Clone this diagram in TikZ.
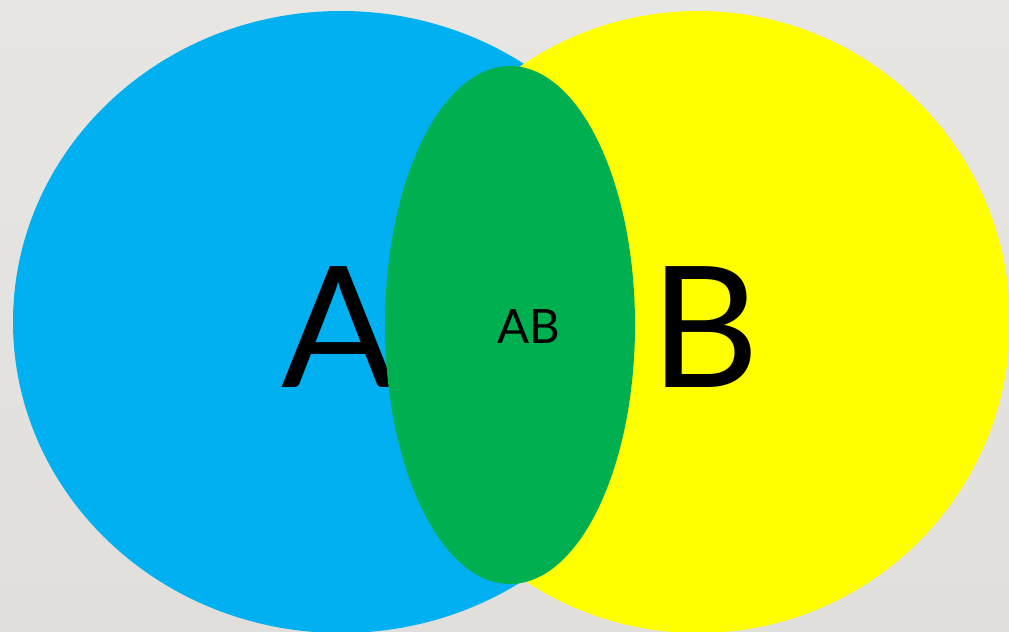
\documentclass[tikz,border=0pt]{standalone}
\usepackage{fontspec}
\setmainfont{Lato}
\usetikzlibrary{positioning}
\definecolor{vennblue}{HTML}{00B0F0}
\definecolor{vennyellow}{HTML}{FFFF00}
\definecolor{venngreen}{HTML}{00B050}
\definecolor{slidetop}{HTML}{E8E6E3}
\definecolor{slidebottom}{HTML}{E1DFDB}
\tikzset{
  every picture/.append style={line cap=round,line join=round},
  venn set a/.style={fill=vennblue},
  venn set b/.style={fill=vennyellow},
  venn overlap/.style={fill=venngreen},
  venn big label/.style={inner sep=0pt,anchor=base,font=\fontsize{120}{120}\selectfont},
  venn small label/.style={inner sep=0pt,anchor=base,font=\fontsize{33.7}{34}\selectfont}
}
\begin{document}
\begin{tikzpicture}[x=0.025cm,y=-0.025cm]
  \useasboundingbox (0,0) rectangle (1009,632);
  \shade[top color=slidetop,bottom color=slidebottom] (0,0) rectangle (1009,632);
  \clip (0,0) rectangle (1009,632);
  % the two sets
  \fill[venn set a] (341,322) ellipse [x radius=328,y radius=311];
  \fill[venn set b] (698,322) ellipse [x radius=312,y radius=311];
  \node[venn big label] (labelA) at (339,387) {A};
  \node[venn big label] (labelB) at (705,387) {B};
  % intersection
  \fill[venn overlap] (510,325) ellipse [x radius=125,y radius=259];
  \node[venn small label] (labelAB) at (529,343) {AB};
\end{tikzpicture}
\end{document}
